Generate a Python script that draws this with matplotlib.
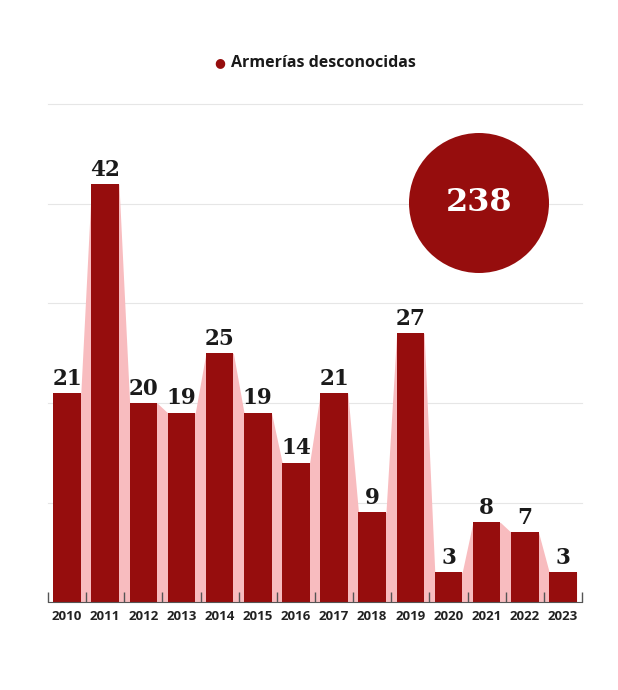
import matplotlib.pyplot as plt
import numpy as np
from matplotlib.patches import Ellipse

years = ["2010", "2011", "2012", "2013", "2014", "2015", "2016",
         "2017", "2018", "2019", "2020", "2021", "2022", "2023"]
values = [21, 42, 20, 19, 25, 19, 14, 21, 9, 27, 3, 8, 7, 3]
total = "238"
series_name = "Armerías desconocidas"

bar_color = "#960d0d"
pink = "#f8bcbf"
W, H = 618, 690

fig = plt.figure(figsize=(W / 100, H / 100), dpi=100)
ax = fig.add_axes([48 / W, 88 / H, 534 / W, 497.5 / H])

x = np.arange(len(values))
bw = 0.72

# gridlines drawn by hand so the axis ticks can sit above the bars
for g in [10, 20, 30, 40, 50]:
    ax.axhline(g, color="#e6e6e6", lw=0.8, zorder=0, clip_on=False)

# pink band joining the bar tops
px, py = [], []
for xi, v in zip(x, values):
    px += [xi - bw / 2, xi + bw / 2]
    py += [v, v]
ax.fill_between(px, py, 0, color=pink, lw=0, zorder=1)

ax.bar(x, values, width=bw, color=bar_color, zorder=2)

for xi, v in zip(x, values):
    ax.text(xi, v + 0.35, str(v), ha="center", va="bottom",
            fontsize=15.5, fontweight="bold", family="DejaVu Serif",
            color="#1a1a1a", zorder=3)

ax.set_xlim(-0.5, len(values) - 0.5)
ax.set_ylim(0, 50)
ax.set_yticks([])

# ticks between categories, labels centred under bars
ax.set_xticks(np.arange(len(values) + 1) - 0.5)
ax.set_xticklabels([])
ax.set_xticks(x, minor=True)
ax.set_xticklabels(years, minor=True, fontsize=9.5, fontweight="bold",
                   family="Open Sans", color="#222222")
ax.tick_params(axis="x", which="major", direction="in", length=7,
               color="#555555", width=1)
ax.tick_params(axis="x", which="minor", length=0, pad=5.5)

for s in ["top", "right", "left"]:
    ax.spines[s].set_visible(False)
ax.spines["bottom"].set_color("#555555")
ax.spines["bottom"].set_zorder(4)
ax.xaxis.set_zorder(4)

# total bubble
cx, cy, r = 479, 203, 70
fig.add_artist(Ellipse((cx / W, 1 - cy / H), 2 * r / W, 2 * r / H,
                       transform=fig.transFigure, color=bar_color, lw=0))
fig.text(cx / W, 1 - cy / H, total, ha="center", va="center", color="white",
         fontsize=23, fontweight="bold", family="DejaVu Serif")

# legend header
fig.text(220 / W, 1 - 63 / H, "●", ha="center", va="center", color=bar_color,
         fontsize=9)
fig.text(231 / W, 1 - 63 / H, series_name, ha="left", va="center",
         fontsize=11.5, fontweight="bold", family="Open Sans", color="#1a1a1a")

fig.savefig("out.png", dpi=100, facecolor="white")
